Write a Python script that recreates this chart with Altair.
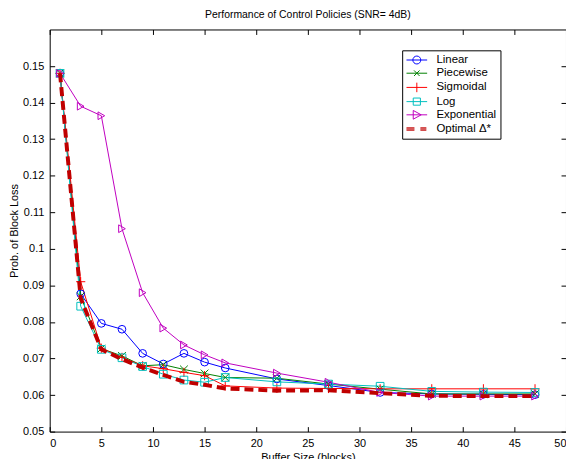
import altair as alt
import pandas as pd

x_vals = [1, 3, 5, 7, 9, 11, 13, 15, 17, 22, 27, 32, 37, 42, 47]
linear = [0.148, 0.0877, 0.0796, 0.0780, 0.0714, 0.0685, 0.0714, 0.0690, 0.0674, 0.0644, 0.0626, 0.0607, 0.0603, 0.0602, 0.0601]
piecewise = [0.148, 0.0870, 0.0727, 0.0707, 0.0680, 0.0683, 0.0670, 0.0659, 0.0648, 0.0646, 0.0630, 0.0616, 0.0603, 0.0603, 0.0603]
sigmoidal = [0.148, 0.0910, 0.0728, 0.0703, 0.0680, 0.0672, 0.0662, 0.0653, 0.0625, 0.0619, 0.0618, 0.0617, 0.0617, 0.0617, 0.0617]
log = [0.148, 0.0843, 0.0725, 0.0702, 0.0678, 0.0657, 0.0641, 0.0635, 0.0648, 0.0636, 0.0630, 0.0624, 0.0610, 0.0608, 0.0607]
exponential = [0.148, 0.1390, 0.1364, 0.1055, 0.0880, 0.0783, 0.0737, 0.0710, 0.0688, 0.0660, 0.0635, 0.0607, 0.0597, 0.0597, 0.0597]
optimal = [0.148, 0.0865, 0.0725, 0.0698, 0.0675, 0.0655, 0.0636, 0.0628, 0.0618, 0.0612, 0.0613, 0.0605, 0.0598, 0.0597, 0.0597]

names = ["Linear", "Piecewise", "Sigmoidal", "Log", "Exponential", "Optimal Δ*"]
colors = ["#0000ff", "#008000", "#ff0000", "#00bfbf", "#bf00bf", "#c00000"]
series = [linear, piecewise, sigmoidal, log, exponential, optimal]

rows = []
for n, ys in zip(names, series):
    for xv, yv in zip(x_vals, ys):
        rows.append({"x": xv, "y": yv, "series": n})
df = pd.DataFrame(rows)

pol_names = names[:5]
pol_colors = colors[:5]
marker_shapes = ["circle", "M-1,-1L1,1M-1,1L1,-1", "M-1.2,0L1.2,0M0,-1.2L0,1.2", "square", "triangle-right"]

legend_shapes = [
    "M-2.6,0L2.6,0M-1,0A1,1 0 1,0 1,0A1,1 0 1,0 -1,0",
    "M-2.6,0L2.6,0M-0.7,-0.7L0.7,0.7M-0.7,0.7L0.7,-0.7",
    "M-2.6,0L2.6,0M0,-1.2L0,1.2",
    "M-2.6,0L2.6,0M-0.9,-0.9L0.9,-0.9L0.9,0.9L-0.9,0.9Z",
    "M-2.6,0L2.6,0M-0.9,-1.1L1.1,0L-0.9,1.1Z",
    "M-2.6,-0.3L-0.6,-0.3M-2.6,0L-0.6,0M-2.6,0.3L-0.6,0.3M0.9,-0.3L2.4,-0.3M0.9,0L2.4,0M0.9,0.3L2.4,0.3",
]

xscale = alt.Scale(domain=[0, 50], nice=False, zero=False)
yscale = alt.Scale(domain=[0.05, 0.16], nice=False, zero=False)
x_ticks = [0, 5, 10, 15, 20, 25, 30, 35, 40, 45, 50]
y_ticks = [0.05, 0.06, 0.07, 0.08, 0.09, 0.10, 0.11, 0.12, 0.13, 0.14, 0.15]

base = alt.Chart(df)
pol = base.transform_filter(alt.FieldOneOfPredicate(field="series", oneOf=pol_names))

lines = pol.mark_line(strokeWidth=1).encode(
    x=alt.X("x:Q", scale=xscale,
            axis=alt.Axis(values=x_ticks, title="Buffer Size (blocks)", offset=-5, tickSize=5,
                          labelPadding=6, titlePadding=3, orient="bottom")),
    y=alt.Y("y:Q", scale=yscale,
            axis=alt.Axis(values=y_ticks, format=".2~f", title="Prob. of Block Loss", offset=-5,
                          tickSize=5, labelPadding=6, titlePadding=3, orient="left")),
    color=alt.Color("series:N", scale=alt.Scale(domain=pol_names, range=pol_colors), legend=None),
    detail="series:N",
)

points = pol.mark_point(filled=False, strokeWidth=1, size=60, opacity=1).encode(
    x=alt.X("x:Q", scale=xscale, axis=None),
    y=alt.Y("y:Q", scale=yscale, axis=None),
    color=alt.Color("series:N", scale=alt.Scale(domain=pol_names, range=pol_colors), legend=None),
    shape=alt.Shape("series:N", scale=alt.Scale(domain=pol_names, range=marker_shapes), legend=None),
)

opt = base.transform_filter(alt.datum.series == names[5]).mark_line(
    strokeWidth=4, strokeDash=[9, 5], color=colors[5], strokeCap="butt"
).encode(
    x=alt.X("x:Q", scale=xscale, axis=None),
    y=alt.Y("y:Q", scale=yscale, axis=None),
)

leg = base.transform_filter("false").mark_point(filled=False, strokeWidth=1, opacity=1).encode(
    x=alt.X("x:Q", scale=xscale, axis=alt.Axis(values=x_ticks, orient="top", labels=False, title=None,
                                               offset=-5, tickSize=5)),
    y=alt.Y("y:Q", scale=yscale, axis=alt.Axis(values=y_ticks, orient="right", labels=False, title=None,
                                               offset=-5, tickSize=5)),
    color=alt.Color("series:N", scale=alt.Scale(domain=names, range=colors),
                    legend=alt.Legend(title=None, orient="none", legendX=355, legendY=21)),
    shape=alt.Shape("series:N", scale=alt.Scale(domain=names, range=legend_shapes),
                    legend=alt.Legend(title=None, orient="none", legendX=355, legendY=21)),
)

chart = alt.layer(lines, points, opt, leg).resolve_scale(
    color="independent", shape="independent"
).resolve_axis(x="independent", y="independent").properties(
    width=520, height=405,
    title=alt.TitleParams("Performance of Control Policies (SNR= 4dB)", fontSize=10.5,
                          fontWeight="normal", font="Liberation Sans", color="black", offset=9),
    autosize=alt.AutoSizeParams(type="none"),
    padding={"left": 42, "top": 20, "right": 0, "bottom": 30},
).configure_view(stroke="black", strokeWidth=1).configure_axis(
    domain=False, grid=False, labelFont="Liberation Sans", labelFontSize=11, labelColor="black",
    tickColor="black", titleFont="Liberation Sans", titleFontSize=11, titleFontWeight="normal",
    titleColor="black",
).configure_legend(
    strokeColor="black", fillColor="white", padding=4, labelFont="Liberation Sans", labelFontSize=11.5,
    labelColor="black", symbolSize=64, symbolStrokeWidth=1, rowPadding=0.3, symbolOffset=5,
    labelOffset=14, cornerRadius=0,
)

chart.save("out.html", embed_options={"renderer": "svg", "actions": False})
